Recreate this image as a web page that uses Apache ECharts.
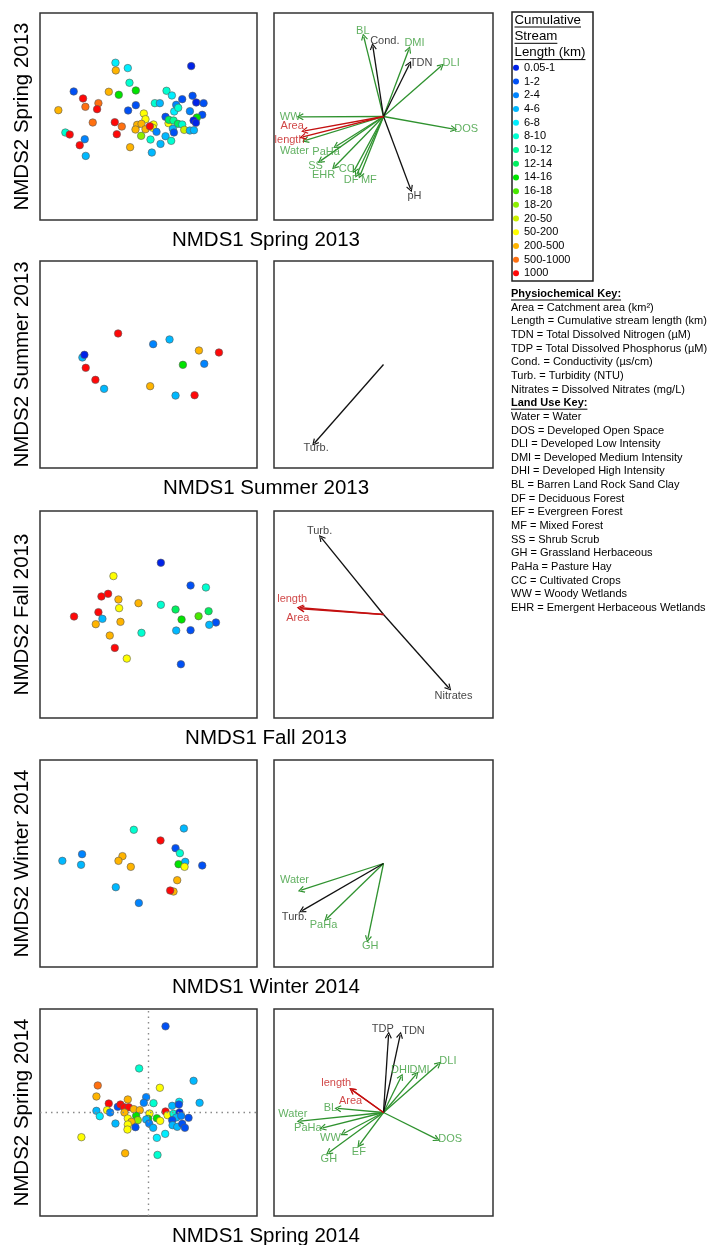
<!DOCTYPE html>
<html><head><meta charset="utf-8">
<script src="https://cdn.jsdelivr.net/npm/echarts@6/dist/echarts.min.js"></script>
<style>html,body{margin:0;padding:0;background:#fff}#c{width:713px;height:1245px}</style>
</head><body><div id="c"></div>
<script>
// ---------- DATA ----------
const categories = ['0.05-1','1-2','2-4','4-6','6-8','8-10','10-12','12-14','14-16','16-18','18-20','20-50','50-200','200-500','500-1000','1000'];
const catColors = ['#0022E8','#0050F5','#0084FF','#00B8FF','#00EEFF','#00FFD0','#00FF9A','#00F060','#00E400','#48E800','#8CF000','#CCF000','#FFFF00','#FFB400','#FF7010','#FF0808'];

const seasons = ['Spring 2013','Summer 2013','Fall 2013','Winter 2014','Spring 2014'];

// site scores [NMDS1, NMDS2, stream-length class index]
const spring2013Sites = [[-0.495,0.805,4],[-0.49,0.69,13],[-0.31,0.725,4],[0.64,0.755,0],[-0.285,0.505,5],[-0.19,0.39,8],[-0.445,0.325,8],[-0.595,0.37,13],[-1.12,0.375,1],[-0.98,0.27,15],[-0.75,0.2,14],[-0.945,0.145,14],[-0.77,0.11,15],[-1.35,0.095,13],[-0.305,0.09,1],[-0.19,0.17,1],[0.27,0.385,5],[0.35,0.315,4],[0.505,0.26,1],[0.66,0.31,1],[0.715,0.21,0],[0.825,0.2,1],[0.095,0.2,5],[0.17,0.2,3],[0.415,0.175,2],[0.385,0.075,4],[0.445,0.13,5],[0.62,0.08,2],[0.805,0.025,1],[0.725,-0.015,8],[0.675,-0.06,0],[0.71,-0.095,0],[0.255,-0.005,1],[-0.07,0.045,12],[-0.045,-0.04,12],[-0.835,-0.09,14],[-0.505,-0.085,15],[-0.4,-0.15,14],[-0.475,-0.265,15],[-0.17,-0.125,13],[-0.105,-0.11,13],[-0.195,-0.195,13],[-0.045,-0.19,13],[0.075,-0.12,12],[0.065,-0.17,12],[0.02,-0.145,15],[0.3,-0.1,12],[0.305,-0.05,7],[0.375,-0.06,6],[0.44,-0.11,7],[0.505,-0.12,5],[0.365,-0.185,3],[0.38,-0.24,1],[0.535,-0.2,11],[0.62,-0.21,3],[0.68,-0.205,3],[0.12,-0.23,2],[-1.245,-0.24,5],[-1.18,-0.27,15],[-0.955,-0.34,2],[-1.03,-0.43,15],[-0.94,-0.59,3],[-0.11,-0.29,10],[0.03,-0.345,5],[0.255,-0.295,3],[0.18,-0.41,3],[0.34,-0.365,5],[0.05,-0.54,3],[-0.275,-0.46,13]];
const summer2013Sites = [[-0.455,0.465,15],[0.07,0.305,2],[0.315,0.375,3],[0.755,0.21,13],[1.055,0.18,15],[-0.99,0.105,3],[-0.96,0.145,0],[0.515,-0.005,8],[0.835,0.01,2],[-0.94,-0.05,15],[-0.795,-0.23,15],[-0.665,-0.365,3],[0.025,-0.325,13],[0.405,-0.465,3],[0.69,-0.46,15]];
const fall2013Sites = [[0.185,0.775,0],[-0.525,0.575,12],[0.63,0.435,1],[0.86,0.405,5],[-0.705,0.27,15],[-0.605,0.31,15],[-0.45,0.225,13],[-0.15,0.17,13],[0.185,0.145,5],[-0.44,0.095,12],[0.405,0.075,7],[0.9,0.05,7],[0.75,-0.025,9],[0.495,-0.075,8],[-1.115,-0.03,15],[-0.75,0.035,15],[-0.69,-0.065,3],[-0.79,-0.145,13],[-0.42,-0.11,13],[1.01,-0.12,1],[0.91,-0.155,3],[0.415,-0.24,3],[0.63,-0.235,1],[-0.105,-0.275,5],[-0.58,-0.315,13],[-0.505,-0.5,15],[-0.325,-0.66,12],[0.485,-0.745,1]];
const winter2014Sites = [[-0.22,0.505,5],[0.53,0.525,3],[0.18,0.345,15],[0.405,0.23,1],[0.47,0.155,5],[-0.995,0.14,2],[-1.29,0.04,3],[-1.01,-0.02,3],[-0.39,0.11,13],[-0.45,0.04,13],[-0.265,-0.05,13],[0.55,0.025,3],[0.45,-0.01,8],[0.54,-0.05,12],[0.805,-0.03,1],[0.43,-0.25,13],[-0.49,-0.355,3],[0.375,-0.42,13],[0.325,-0.405,15],[-0.145,-0.59,2]];
const spring2014Sites = [[0.255,1.29,1],[-0.14,0.66,5],[0.675,0.475,3],[0.17,0.37,12],[-0.76,0.405,14],[-0.78,0.24,13],[0.765,0.145,3],[-0.31,0.195,13],[-0.035,0.23,2],[-0.07,0.145,2],[0.075,0.14,5],[-0.595,0.135,15],[-0.46,0.085,1],[-0.42,0.12,15],[-0.365,0.08,15],[-0.295,0.08,15],[-0.22,0.05,13],[-0.13,0.035,13],[-0.36,0,13],[-0.62,0.035,12],[-0.575,0,2],[-0.78,0.025,3],[-0.73,-0.055,4],[-0.495,-0.165,3],[-0.31,-0.09,12],[-0.185,-0.05,8],[-0.16,-0.115,10],[-0.255,-0.14,13],[-0.31,-0.18,12],[-0.315,-0.255,12],[-0.195,-0.22,1],[0.015,-0.015,12],[-0.005,-0.095,8],[0.125,-0.085,8],[0.175,-0.125,12],[-0.035,-0.105,3],[0.01,-0.165,2],[0.07,-0.23,3],[0.125,-0.38,4],[0.25,-0.32,4],[0.135,-0.635,5],[-0.35,-0.61,13],[-1.005,-0.37,12],[0.255,0.015,15],[0.285,-0.04,12],[0.355,0.1,3],[0.46,0.16,4],[0.455,0.12,1],[0.375,-0.02,5],[0.465,0,0],[0.415,-0.075,3],[0.355,-0.115,1],[0.36,-0.19,3],[0.43,-0.215,3],[0.505,-0.17,1],[0.545,-0.23,1],[0.6,-0.08,1],[0.49,-0.05,2]];

// fitted vectors [label, x, y, labelX, labelY, group]  group: L = land use, P = physiochemical, S = size
const spring2013Vectors = [['BL',-0.18,0.77,-0.189,0.828,'L'],['Cond.',-0.097,0.677,0.012,0.729,'P'],['DMI',0.231,0.647,0.283,0.71,'L'],['TDN',0.237,0.505,0.344,0.521,'P'],['DLI',0.527,0.488,0.618,0.515,'L'],['DOS',0.642,-0.122,0.755,-0.122,'L'],['pH',0.247,-0.70,0.283,-0.766,'P'],['WW',-0.761,-0.003,-0.852,0,'L'],['Water',-0.712,-0.231,-0.813,-0.33,'L'],['PaHa',-0.432,-0.287,-0.524,-0.343,'L'],['SS',-0.575,-0.429,-0.621,-0.475,'L'],['EHR',-0.447,-0.485,-0.548,-0.568,'L'],['CC',-0.265,-0.518,-0.335,-0.508,'L'],['DF',-0.244,-0.561,-0.295,-0.617,'L'],['MF',-0.213,-0.568,-0.134,-0.617,'L'],['Area',-0.721,-0.139,-0.834,-0.089,'S'],['length',-0.737,-0.198,-0.858,-0.231,'S']];
const summer2013Vectors = [['Turb.',-0.63,-0.758,-0.615,-0.806,'P']];
const fall2013Vectors = [['Turb.',-0.569,0.742,-0.584,0.806,'P'],['Nitrates',0.597,-0.71,0.639,-0.79,'P'],['length',-0.761,0.065,-0.834,0.152,'S'],['Area',-0.752,0.055,-0.782,-0.032,'S']];
const winter2014Vectors = [['Water',-0.752,-0.258,-0.813,-0.161,'L'],['Turb.',-0.743,-0.455,-0.813,-0.516,'P'],['PaHa',-0.517,-0.532,-0.548,-0.59,'L'],['GH',-0.143,-0.729,-0.122,-0.8,'L']];
const spring2014Vectors = [['TDP',0.046,0.748,-0.006,0.803,'P'],['TDN',0.152,0.748,0.274,0.787,'P'],['DLI',0.502,0.468,0.588,0.497,'L'],['DMI',0.298,0.368,0.329,0.41,'L'],['DHI',0.161,0.345,0.155,0.41,'L'],['BL',-0.417,0.039,-0.484,0.045,'L'],['Water',-0.761,-0.084,-0.828,-0.019,'L'],['PaHa',-0.554,-0.148,-0.691,-0.148,'L'],['WW',-0.365,-0.203,-0.484,-0.245,'L'],['GH',-0.499,-0.387,-0.499,-0.452,'L'],['EF',-0.219,-0.31,-0.225,-0.381,'L'],['DOS',0.487,-0.258,0.609,-0.252,'L'],['length',-0.286,0.216,-0.432,0.287,'S'],['Area',-0.286,0.216,-0.301,0.113,'S']];

const legendTitle = ['Cumulative','Stream','Length (km)'];
const physKey = ['Area = Catchment area (km²)','Length = Cumulative stream length (km)','TDN = Total Dissolved Nitrogen (µM)','TDP = Total Dissolved Phosphorus (µM)','Cond. = Conductivity (µs/cm)','Turb. = Turbidity (NTU)','Nitrates = Dissolved Nitrates (mg/L)'];
const landKey = ['Water = Water','DOS = Developed Open Space','DLI = Developed Low Intensity','DMI = Developed Medium Intensity','DHI = Developed High Intensity','BL = Barren Land Rock Sand Clay','DF = Deciduous Forest','EF = Evergreen Forest','MF = Mixed Forest','SS = Shrub Scrub','GH = Grassland Herbaceous','PaHa = Pasture Hay','CC = Cultivated Crops','WW = Woody Wetlands','EHR = Emergent Herbaceous Wetlands'];

// ---------- LAYOUT / STYLE ----------
const FONT = '"Liberation Sans", Arial, Helvetica, sans-serif';
const groupColor = {L:'#2F922F', P:'#111111', S:'#C41010'};
const groupLabelColor = {L:'#3A9C3A', P:'#111111', S:'#C41818'};
const rowTops = [13, 261, 511, 760, 1009];
const rowH = 207;
const chevron = 'path://M5,0 L10,9 L8.6,10 L5,3.2 L1.4,10 L0,9 Z';

const measure = (() => { const cv = document.createElement('canvas').getContext('2d'); return (t, f) => { cv.font = f; return cv.measureText(t).width; }; })();

const panels = [
  {sites: spring2013Sites, vectors: spring2013Vectors, cross:false},
  {sites: summer2013Sites, vectors: summer2013Vectors, cross:false},
  {sites: fall2013Sites, vectors: fall2013Vectors, cross:false},
  {sites: winter2014Sites, vectors: winter2014Vectors, cross:false},
  {sites: spring2014Sites, vectors: spring2014Vectors, cross:true}
];

const grids = [], xAxes = [], yAxes = [], series = [], graphics = [];

panels.forEach((p, i) => {
  const top = rowTops[i];
  const gi = 2 * i;
  grids.push({left:40, top, width:217, height:rowH, show:true, borderColor:'#333', borderWidth:1.5, backgroundColor:'transparent'});
  grids.push({left:274, top, width:219, height:rowH, show:true, borderColor:'#333', borderWidth:1.5, backgroundColor:'transparent'});
  xAxes.push({gridIndex:gi, type:'value', min:-1.625, max:1.625, show:false});
  yAxes.push({gridIndex:gi, type:'value', min:-1.55, max:1.55, show:false});
  xAxes.push({gridIndex:gi+1, type:'value', min:-1, max:1, show:false});
  yAxes.push({gridIndex:gi+1, type:'value', min:-1, max:1, show:false});

  const sc = {
    type:'scatter', xAxisIndex:gi, yAxisIndex:gi, silent:true, animation:false,
    data: p.sites, symbolSize:7.5,
    encode:{x:0, y:1},
    itemStyle:{color: prm => catColors[prm.value[2]], borderColor:'#5a5a5a', borderWidth:0.6, opacity:1}
  };
  if (p.cross) {
    sc.markLine = {silent:true, symbol:'none', animation:false, label:{show:false},
      lineStyle:{color:'#8a8a8a', type:[1.5,4], width:1.4},
      data:[{xAxis:0},{yAxis:0}]};
  }
  series.push(sc);

  ['L','P','S'].forEach(g => {
    const vs = p.vectors.filter(v => v[5] === g);
    if (!vs.length) return;
    series.push({
      type:'lines', coordinateSystem:'cartesian2d', xAxisIndex:gi+1, yAxisIndex:gi+1,
      silent:true, animation:false, symbol:['none', chevron], symbolSize:[7,7],
      lineStyle:{color:groupColor[g], width:1.3, opacity:1},
      data: vs.map(v => ({coords:[[0,0],[v[1],v[2]]]}))
    });
  });
  series.push({
    type:'scatter', xAxisIndex:gi+1, yAxisIndex:gi+1, silent:true, animation:false,
    symbolSize:1, itemStyle:{color:'rgba(0,0,0,0)'},
    data: p.vectors.map(v => ({name:v[0], value:[v[3], v[4]], label:{color:groupLabelColor[v[5]]}})),
    label:{show:true, position:'inside', formatter:'{b}', fontSize:11, fontFamily:FONT, align:'center', verticalAlign:'middle'},
    labelLayout:{hideOverlap:false}
  });

  // axis titles
  graphics.push({type:'text', x:22, y:top + rowH/2, rotation:Math.PI/2, silent:true,
    style:{text:'NMDS2 ' + seasons[i], font:'20.5px ' + FONT, fill:'#000', align:'center', verticalAlign:'middle'}});
  graphics.push({type:'text', x:266, y:top + rowH + 20, silent:true,
    style:{text:'NMDS1 ' + seasons[i], font:'20.5px ' + FONT, fill:'#000', align:'center', verticalAlign:'middle'}});
});

// legend dummy series (one per length class)
categories.forEach((c, k) => {
  series.push({type:'scatter', name:c, xAxisIndex:0, yAxisIndex:0, data:[], silent:true,
    itemStyle:{color:catColors[k]}});
});

// legend box + title
graphics.push({type:'rect', shape:{x:512, y:12, width:81, height:269}, silent:true,
  style:{fill:'none', stroke:'#222', lineWidth:1.5}});
const titleFont = '13.3px ' + FONT;
legendTitle.forEach((t, k) => {
  const y = 20 + k * 16.3;
  graphics.push({type:'text', x:514.5, y, silent:true, style:{text:t, font:titleFont, fill:'#000', verticalAlign:'middle'}});
  const w = measure(t, titleFont);
  graphics.push({type:'line', silent:true, shape:{x1:514.5, y1:y+7, x2:514.5+w, y2:y+7}, style:{stroke:'#000', lineWidth:1}});
});

// keys
const keyFont = '11px ' + FONT, keyBold = 'bold 11px ' + FONT;
const keyLines = [['Physiochemical Key:', true]].concat(physKey.map(t=>[t,false]), [['Land Use Key:', true]], landKey.map(t=>[t,false]));
keyLines.forEach((kl, k) => {
  const y = 294 + k * 13.65;
  const f = kl[1] ? keyBold : keyFont;
  graphics.push({type:'text', x:511, y, silent:true, style:{text:kl[0], font:f, fill:'#000', verticalAlign:'middle'}});
  if (kl[1]) {
    const w = measure(kl[0], f);
    graphics.push({type:'line', silent:true, shape:{x1:511, y1:y+6, x2:511+w, y2:y+6}, style:{stroke:'#000', lineWidth:1}});
  }
});

const chart = echarts.init(document.getElementById('c'), null, {renderer:'canvas', width:713, height:1245});
chart.setOption({
  backgroundColor:'#fff',
  animation:false,
  grid: grids, xAxis: xAxes, yAxis: yAxes,
  legend:{
    data: categories.map((c, k) => ({name:c, itemStyle:{color:catColors[k], borderWidth:0, opacity:1}})),
    orient:'vertical', left:513, top:61, itemWidth:6, itemHeight:6, itemGap:0,
    icon:'circle', selectedMode:false, padding:0,
    itemStyle:{borderWidth:0},
    textStyle:{fontSize:11, lineHeight:13.7, color:'#000', fontFamily:FONT}
  },
  series: series,
  graphic: graphics
});
</script></body></html>
